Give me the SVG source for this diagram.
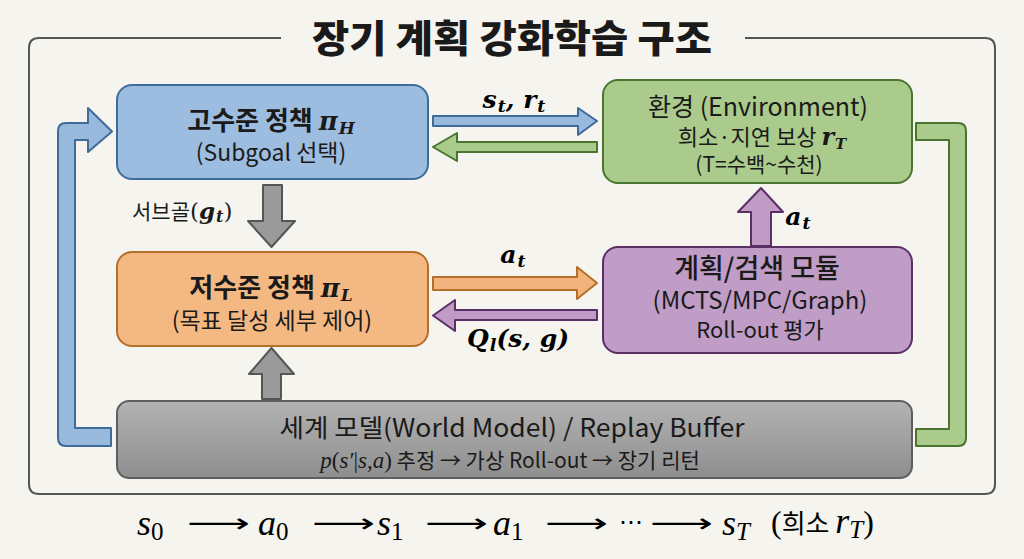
<svg xmlns="http://www.w3.org/2000/svg" width="1024" height="559" viewBox="0 0 1024 559">
<defs>
<linearGradient id="gGray" x1="0" y1="0" x2="0" y2="1">
<stop offset="0" stop-color="#b3b3b3"/><stop offset="1" stop-color="#8e8e8e"/>
</linearGradient>
<style>
.k{font-family:"Noto Sans CJK KR","Noto Sans",sans-serif;fill:#1a1a1a;text-anchor:middle}
.b{font-weight:bold}
.m{font-family:"DejaVu Serif","Liberation Serif",serif;font-style:italic;font-weight:bold}
.mi{font-family:"Liberation Serif","DejaVu Serif",serif;font-style:italic}
.sub{font-size:70%}
.garr{fill:#9a9a9a;stroke:#555;stroke-width:2;stroke-linejoin:round}
.arw{font-family:"DejaVu Sans",sans-serif;font-size:26px}
</style>
</defs>
<rect width="1024" height="559" fill="#f5f4ef"/>
<!-- frame -->
<path d="M281,38 L39,38 Q29,38 29,48 L29,484 Q29,494 39,494 L985,494 Q995,494 995,484 L995,48 Q995,38 985,38 L745,38" fill="none" stroke="#555" stroke-width="2"/>
<text x="512" y="52" class="k" style="font-size:38px;font-weight:900" textLength="400" lengthAdjust="spacingAndGlyphs">장기 계획 강화학습 구조</text>

<g id="connectors">
<path d="M111,446 L66,446 Q58,446 58,438 L58,131 Q58,123 66,123 L88,123 L88,108 L112,131.5 L88,152 L88,140 L75,140 L75,428 L111,428 Z" fill="#98b9dc" stroke="#3e6c9a" stroke-width="2" stroke-linejoin="round"/>
<path d="M916,123 L958,123 Q966,123 966,131 L966,438 Q966,446 958,446 L916,446 L916,429 L949,429 L949,140 L916,140 Z" fill="#aacb8c" stroke="#4a7530" stroke-width="2" stroke-linejoin="round"/>
<polygon points="433,116 578,116 578,108 597,121 578,135 578,126 433,126" fill="#98b9dc" stroke="#3e6c9a" stroke-width="2" stroke-linejoin="round"/>
<polygon points="597,142 457,142 457,133 433,147 457,161 457,152 597,152" fill="#aacb8c" stroke="#4a7530" stroke-width="2" stroke-linejoin="round"/>
<polygon points="433,277 577,277 577,267 597,283 577,299 577,290 433,290" fill="#f2b47c" stroke="#b56f2c" stroke-width="2" stroke-linejoin="round"/>
<polygon points="597,310 455,310 455,300 433,315.5 455,331 455,320 597,320" fill="#bf9bc6" stroke="#5a2f66" stroke-width="2" stroke-linejoin="round"/>
<polygon class="garr" points="263,185 282,185 282,221 295,221 271.5,247 248,221 263,221"/>
<polygon class="garr" points="262,399 281,399 281,374 294,374 271.5,348 249,374 262,374"/>
<polygon points="751,246 771,246 771,212 783,212 761,188 738,212 751,212" fill="#bf9bc6" stroke="#5a2f66" stroke-width="2" stroke-linejoin="round"/>
<text x="514" y="108" class="m" style="font-size:25px;text-anchor:middle">s<tspan class="sub" dy="4" dx="1">t</tspan><tspan dy="-4">, r</tspan><tspan class="sub" dy="4" dx="1">t</tspan></text>
<text x="513" y="263" class="m" style="font-size:25px;text-anchor:middle">a<tspan class="sub" dy="4" dx="1">t</tspan></text>
<text x="518" y="347" class="m" style="font-size:25px;text-anchor:middle">Q<tspan class="sub" dy="4" dx="1">l</tspan><tspan dy="-4">(s, g)</tspan></text>
<text x="798" y="225" class="m" style="font-size:25px;text-anchor:middle">a<tspan class="sub" dy="4" dx="1">t</tspan></text>
<text x="132" y="219" class="k" style="font-size:21px;text-anchor:start">서브골<tspan class="m" style="font-size:23px;font-weight:normal;font-style:normal">(</tspan><tspan class="m" style="font-size:23px">g</tspan><tspan class="m" style="font-size:16px" dy="3" dx="1">t</tspan><tspan class="m" style="font-size:23px;font-weight:normal;font-style:normal" dy="-3">)</tspan></text>
</g>

<g id="high">
<rect x="117" y="85" width="311" height="94" rx="15" fill="#9dbde0" stroke="#3e6c9a" stroke-width="2"/>
<text x="271" y="130" class="k b" style="font-size:26px">고수준 정책 <tspan class="m" style="font-size:26px">π</tspan><tspan class="m" style="font-size:17px" dy="4" dx="1">H</tspan></text>
<text x="271" y="161" class="k" style="font-size:23px">(Subgoal 선택)</text>
</g>

<g id="low">
<rect x="117" y="252" width="311" height="94" rx="15" fill="#f4b983" stroke="#b56f2c" stroke-width="2"/>
<text x="271" y="297" class="k b" style="font-size:26px">저수준 정책 <tspan class="m" style="font-size:26px">π</tspan><tspan class="m" style="font-size:17px" dy="4" dx="1">L</tspan></text>
<text x="272" y="329" class="k" style="font-size:23px">(목표 달성 세부 제어)</text>
</g>

<g id="env">
<rect x="603" y="80" width="309" height="103" rx="15" fill="#aacb8c" stroke="#4a7530" stroke-width="2"/>
<text x="758" y="116" class="k" style="font-size:25px">환경 (Environment)</text>
<text x="762" y="145" class="k" style="font-size:22px">희소·지연 보상 <tspan class="m" style="font-size:24px">r</tspan><tspan class="m" style="font-size:15px" dy="4" dx="1">T</tspan></text>
<text x="759" y="172" class="k" style="font-size:21px">(T=수백~수천)</text>
</g>

<g id="planner">
<rect x="603" y="247" width="309" height="106" rx="15" fill="#c09dc6" stroke="#5a2f66" stroke-width="2"/>
<text x="757" y="278" class="k" style="font-size:27px;font-weight:500">계획/검색 모듈</text>
<text x="760" y="309" class="k" style="font-size:24px">(MCTS/MPC/Graph)</text>
<text x="760" y="338" class="k" style="font-size:22px">Roll-out 평가</text>
</g>

<g id="world">
<rect x="117" y="401" width="795" height="77" rx="12" fill="url(#gGray)" stroke="#5e5e5e" stroke-width="2"/>
<text x="512" y="437" class="k" style="font-size:25px" textLength="465" lengthAdjust="spacingAndGlyphs">세계 모델(World Model) / Replay Buffer</text>
<text x="510" y="468" class="k" style="font-size:21px"><tspan class="mi" style="font-size:23px">p</tspan><tspan style="font-family:'Liberation Serif',serif;font-size:23px">(</tspan><tspan class="mi" style="font-size:23px">s′</tspan><tspan style="font-family:'Liberation Serif',serif;font-size:23px">|</tspan><tspan class="mi" style="font-size:23px">s</tspan><tspan style="font-family:'Liberation Serif',serif;font-size:23px">,</tspan><tspan class="mi" style="font-size:23px">a</tspan><tspan style="font-family:'Liberation Serif',serif;font-size:23px">)</tspan> 추정 → 가상 Roll-out → 장기 리턴</text>
</g>

<g id="sequence" style="font-size:36px">
<text x="137" y="535" class="mi">s<tspan style="font-style:normal;font-size:25px" dy="5">0</tspan></text>
<text x="187" y="532" class="arw" textLength="63" lengthAdjust="spacingAndGlyphs">⟶</text>
<text x="258" y="535" class="mi">a<tspan style="font-style:normal;font-size:25px" dy="5">0</tspan></text>
<text x="312" y="532" class="arw" textLength="63" lengthAdjust="spacingAndGlyphs">⟶</text>
<text x="377" y="535" class="mi">s<tspan style="font-style:normal;font-size:25px" dy="5">1</tspan></text>
<text x="425" y="532" class="arw" textLength="63" lengthAdjust="spacingAndGlyphs">⟶</text>
<text x="493" y="535" class="mi">a<tspan style="font-style:normal;font-size:25px" dy="5">1</tspan></text>
<text x="545" y="532" class="arw" textLength="63" lengthAdjust="spacingAndGlyphs">⟶</text>
<text x="619" y="530" style="font-family:'DejaVu Sans',sans-serif;font-size:24px">⋯</text>
<text x="650" y="532" class="arw" textLength="63" lengthAdjust="spacingAndGlyphs">⟶</text>
<text x="722" y="535" class="mi">s<tspan style="font-size:25px" dy="5">T</tspan></text>
<text x="771" y="533" style="font-family:'Liberation Serif',serif;font-size:32px">(<tspan style="font-family:'Noto Sans CJK KR',sans-serif;font-size:26px">희소 </tspan><tspan style="font-style:italic;font-size:36px">r</tspan><tspan style="font-style:italic;font-size:25px" dy="5">T</tspan><tspan dy="-5">)</tspan></text>
</g>
</svg>
